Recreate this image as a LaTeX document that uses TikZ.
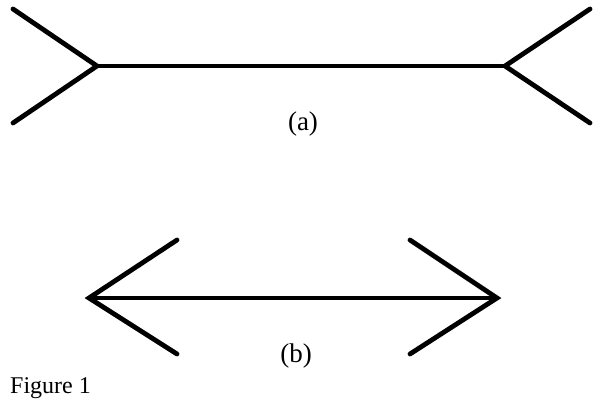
\documentclass[tikz,border=0pt]{standalone}
\usepackage{fontspec}
\setmainfont{Liberation Serif}
\begin{document}
\begin{tikzpicture}[x=1pt,y=-1pt,
  fig/.style={line width=4.8pt,line cap=round,line join=miter},
  lab/.style={font=\fontsize{24}{28}\selectfont,inner sep=0pt},
  sublab/.style={font=\fontsize{27}{31}\selectfont,inner sep=0pt}]
\useasboundingbox (0,0) rectangle (600,403);
% (a)
\coordinate (aL) at (97,66);
\coordinate (aR) at (505,66);
\coordinate (aLt) at (13,9);
\coordinate (aLb) at (13,123);
\coordinate (aRt) at (590,9);
\coordinate (aRb) at (590,123);
\draw[fig,line width=4.3pt] (aL) -- (aR);
\draw[fig] (aLt) -- (aL) -- (aLb);
\draw[fig] (aRt) -- (aR) -- (aRb);
\node[sublab] (la) at (303,124) {(a)};
% (b)
\coordinate (bL) at (89,298);
\coordinate (bR) at (497,298);
\coordinate (bLt) at (177,240);
\coordinate (bLb) at (177,354);
\coordinate (bRt) at (410,240);
\coordinate (bRb) at (410,354);
\draw[fig,line width=4.3pt] (bL) -- (bR);
\draw[fig] (bLt) -- (bL) -- (bLb);
\draw[fig] (bRt) -- (bR) -- (bRb);
\node[sublab] (lb) at (296,356) {(b)};
\node[lab,anchor=base west] (cap) at (10,393) {Figure 1};
\end{tikzpicture}
\end{document}
